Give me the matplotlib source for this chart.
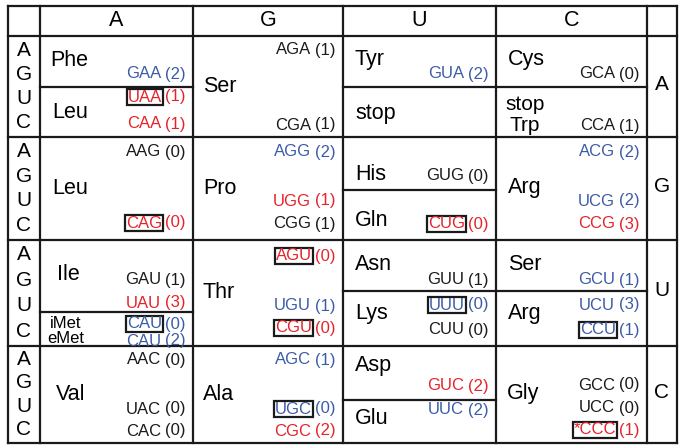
import matplotlib
matplotlib.use("Agg")
import matplotlib.pyplot as plt

plt.rcParams['font.family'] = ['Liberation Sans', 'DejaVu Sans']

# table frame (pixels)
x_edges = [8, 40, 193, 343, 496, 647, 677]
y_edges = [6, 36, 137, 240, 346, 443]

col_bases = ["A", "G", "U", "C"]
row_bases = ["A", "G", "U", "C"]

# amino acid labels
aa_names = ["Phe", "Leu", "Ser", "Tyr", "stop", "Cys", "stop\nTrp",
            "Leu", "Pro", "His", "Gln", "Arg",
            "Ile", "iMet\neMet", "Thr", "Asn", "Lys", "Ser", "Arg",
            "Val", "Ala", "Asp", "Glu", "Gly"]
aa_col = [0, 0, 1, 2, 2, 3, 3,
          0, 1, 2, 2, 3,
          0, 0, 1, 2, 2, 3, 3,
          0, 1, 2, 2, 3]
aa_dx = [10, 12, 10, 12, 12, 12, 29,
         12, 10, 12, 12, 12,
         17, 26, 10, 12, 12, 12, 12,
         16, 10, 12, 12, 11]
aa_y = [60, 113, 86, 60, 113, 60, 115,
        188, 188, 174, 221, 188,
        274, 331, 292, 265, 314, 265, 314,
        394, 394, 366, 418, 394]

# codons with counts
codons = ["GAA", "UAA", "CAA", "AGA", "CGA", "GUA", "GCA", "CCA",
          "AAG", "CAG", "AGG", "UGG", "CGG", "GUG", "CUG", "ACG", "UCG", "CCG",
          "GAU", "UAU", "CAU", "CAU", "AGU", "UGU", "CGU", "GUU", "UUU", "CUU",
          "GCU", "UCU", "CCU",
          "AAC", "UAC", "CAC", "AGC", "UGC", "CGC", "GUC", "UUC", "GCC", "UCC", "*CCC"]
counts = [2, 1, 1, 1, 1, 2, 0, 1,
          0, 0, 2, 1, 1, 0, 0, 2, 2, 3,
          1, 3, 0, 2, 0, 1, 0, 1, 0, 0, 1, 3, 1,
          0, 0, 0, 1, 0, 2, 2, 2, 0, 0, 1]
shade = ['b', 'r', 'r', 'k', 'k', 'b', 'k', 'k',
         'k', 'r', 'b', 'r', 'k', 'k', 'r', 'b', 'b', 'r',
         'k', 'r', 'b', 'b', 'r', 'b', 'r', 'k', 'b', 'k', 'b', 'b', 'b',
         'k', 'k', 'k', 'b', 'b', 'r', 'r', 'b', 'k', 'k', 'r']
boxed = [0, 1, 0, 0, 0, 0, 0, 0,
         0, 1, 0, 0, 0, 0, 1, 0, 0, 0,
         0, 0, 1, 0, 1, 0, 1, 0, 1, 0, 0, 0, 1,
         0, 0, 0, 0, 1, 0, 0, 0, 0, 0, 1]
codon_col = [0, 0, 0, 1, 1, 2, 3, 3,
             0, 0, 1, 1, 1, 2, 2, 3, 3, 3,
             0, 0, 0, 0, 1, 1, 1, 2, 2, 2, 3, 3, 3,
             0, 0, 0, 1, 1, 1, 2, 2, 3, 3, 3]
codon_y = [74, 97, 124, 50, 125, 74, 74, 126,
           152, 223, 152, 201, 224, 176, 224, 152, 201, 224,
           280, 303, 324, 341, 256, 306, 328, 280, 305, 330, 280, 305, 330,
           360, 409, 431, 360, 409, 431, 386, 410, 385, 408, 430]

# sub-dividers inside blocks: (column, y)
split_col = [0, 2, 3, 2, 0, 2, 3, 2]
split_y = [87, 87, 87, 190, 312, 291, 291, 400]

colors = {'k': '#1a1a1a', 'b': '#3c5ba6', 'r': '#e5232b'}

fig = plt.figure(figsize=(6.85, 4.48), dpi=100)
ax = fig.add_axes([0, 0, 1, 1])
ax.set_xlim(0, 685)
ax.set_ylim(448, 0)
ax.axis('off')

lw = 1.6
ax.hlines(y_edges, x_edges[0], x_edges[-1], color='#1a1a1a', lw=lw, capstyle='projecting')
ax.vlines(x_edges, y_edges[0], y_edges[-1], color='#1a1a1a', lw=lw, capstyle='projecting')
for c, y in zip(split_col, split_y):
    ax.hlines(y, x_edges[c + 1], x_edges[c + 2], color='#1a1a1a', lw=lw, capstyle='projecting')

# headers
for i, b in enumerate(col_bases):
    ax.text((x_edges[i + 1] + x_edges[i + 2]) / 2, (y_edges[0] + y_edges[1]) / 2, b,
            ha='center', va='center', fontsize=15.5)

# left base labels and right base labels
for r in range(4):
    top, bot = y_edges[r + 1], y_edges[r + 2]
    h = bot - top
    for j, b in enumerate(row_bases):
        ax.text((x_edges[0] + x_edges[1]) / 2, top + h * (0.14 + 0.24 * j), b,
                ha='center', va='center', fontsize=15)
    ax.text((x_edges[-2] + x_edges[-1]) / 2, (top + bot) / 2 - 2, row_bases[r],
            ha='center', va='center', fontsize=15)

# amino acids
for name, c, dx, y in zip(aa_names, aa_col, aa_dx, aa_y):
    x = x_edges[c + 1] + dx
    if name.startswith("iMet"):
        ax.text(x, y, name, ha='center', va='center', fontsize=12,
                multialignment='center', linespacing=0.95)
    elif "\n" in name:
        ax.text(x, y, name, ha='center', va='center', fontsize=15,
                multialignment='center', linespacing=1.1)
    else:
        ax.text(x, y, name, ha='left', va='center', fontsize=15.5)

# codons
for cod, n, s, bx, c, y in zip(codons, counts, shade, boxed, codon_col, codon_y):
    col = colors[s]
    xr = x_edges[c + 2] - 7
    cnt = ax.text(xr, y, "(%d)" % n, ha='right', va='center', fontsize=12, color=col)
    kw = {}
    if bx:
        kw['bbox'] = dict(boxstyle='square,pad=0.05', fc='none', ec='#1a1a1a', lw=1.6)
    ax.annotate(cod, xy=(0, 0.5), xycoords=cnt, xytext=(-2.6 if bx else -3.2, 0),
                textcoords='offset points', ha='right', va='center',
                fontsize=12, color=col, **kw)

fig.savefig("out.png", dpi=100)
